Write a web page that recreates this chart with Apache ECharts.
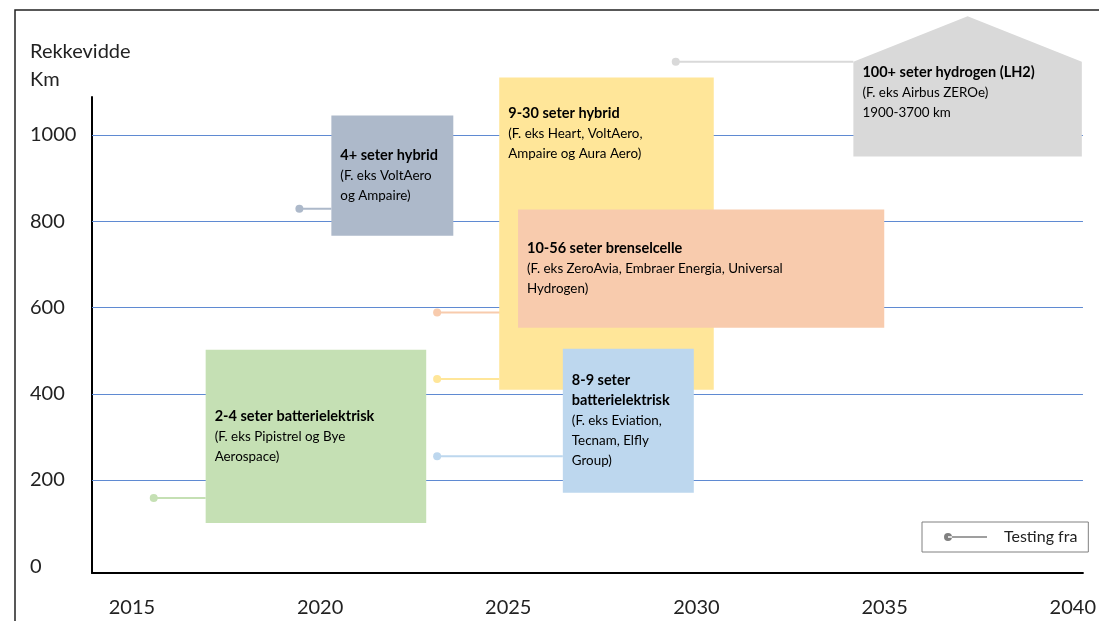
<!DOCTYPE html>
<html>
<head>
<meta charset="utf-8">
<script src="https://cdn.jsdelivr.net/npm/echarts@6/dist/echarts.min.js"></script>
<style>
  html, body { margin: 0; padding: 0; background: #fff; }
  #chart { width: 1099px; height: 621px; }
</style>
</head>
<body>
<div id="chart"></div>
<script>
// Flytyper: rekkevidde (km) mot år, med "testing fra"-punkt
const categories = ['9-30 seter hybrid', '10-56 seter brenselcelle', '8-9 seter\nbatterielektrisk',
  '2-4 seter batterielektrisk', '4+ seter hybrid', '100+ seter hydrogen (LH2)'];
const examples = ['(F. eks Heart, VoltAero,\nAmpaire og Aura Aero)',
  '(F. eks ZeroAvia, Embraer Energia, Universal\nHydrogen)',
  '(F. eks Eviation,\nTecnam, Elfly\nGroup)',
  '(F. eks Pipistrel og Bye\nAerospace)',
  '(F. eks VoltAero\nog Ampaire)',
  '(F. eks Airbus ZEROe)\n1900-3700 km'];
const startYear = [2024.76, 2025.26, 2026.45, 2016.96, 2020.30, 2034.17];
const endYear = [2030.46, 2034.99, 2029.93, 2022.82, 2023.54, 2040.24];
const rangeMin = [409, 553, 170, 100, 766, 950];
const rangeMax = [1133, 827, 504, 502, 1045, 1170];
const roofRange = [null, null, null, null, null, 1275];
const testYear = [2023.11, 2023.11, 2023.11, 2015.58, 2019.45, 2029.45];
const testRange = [434, 588, 255, 158, 829, 1170];
const yearTicks = [2015, 2020, 2025, 2030, 2035, 2040];
const rangeTicks = [0, 200, 400, 600, 800, 1000];

// stil
const boxColors = ['#FFE699', '#F8CBAD', '#BDD7EE', '#C5E0B4', '#ADB9CA', '#D9D9D9'];
const textTop = [26, null, null, null, null, 1]; // null = midtstilt
const FONT = 'Lato, "Open Sans", sans-serif';

const rich = {
  b: { fontFamily: FONT, fontSize: 14.5, fontWeight: 'bold', lineHeight: 20, color: '#111' },
  n: { fontFamily: FONT, fontSize: 13.4, lineHeight: 20, color: '#262626' }
};

function boxText(i) {
  const t = categories[i].split('\n').map(s => '{b|' + s + '}');
  const e = examples[i].split('\n').map(s => '{n|' + s + '}');
  return t.concat(e).join('\n');
}

function renderBox(params, api) {
  const i = params.dataIndex;
  const tl = api.coord([api.value(0), api.value(3)]);
  const br = api.coord([api.value(1), api.value(2)]);
  let box;
  if (roofRange[i] != null) {
    const roofY = api.coord([api.value(0), roofRange[i]])[1];
    box = {
      type: 'polygon',
      shape: { points: [[tl[0], tl[1]], [(tl[0] + br[0]) / 2, roofY], [br[0], tl[1]], [br[0], br[1]], [tl[0], br[1]]] },
      style: { fill: boxColors[i] }
    };
  } else {
    box = {
      type: 'rect',
      shape: { x: tl[0], y: tl[1], width: br[0] - tl[0], height: br[1] - tl[1] },
      style: { fill: boxColors[i] }
    };
  }
  const mid = textTop[i] == null;
  return {
    type: 'group',
    children: [box, {
      type: 'text',
      style: {
        text: boxText(i),
        x: tl[0] + 9,
        y: mid ? (tl[1] + br[1]) / 2 : tl[1] + textTop[i],
        verticalAlign: mid ? 'middle' : 'top',
        align: 'left',
        rich: rich
      }
    }]
  };
}

function renderTest(params, api) {
  const i = params.dataIndex;
  const p = api.coord([api.value(0), api.value(1)]);
  const e = api.coord([api.value(2), api.value(1)]);
  return {
    type: 'group',
    children: [
      { type: 'line', shape: { x1: p[0], y1: p[1], x2: e[0], y2: e[1] }, style: { stroke: boxColors[i], lineWidth: 2 } },
      { type: 'circle', shape: { cx: p[0], cy: p[1], r: 4 }, style: { fill: boxColors[i] } }
    ]
  };
}

function renderGrid(params, api) {
  const y = Math.round(api.coord([2020, api.value(0)])[1]) + 0.5;
  const cs = params.coordSys;
  return { type: 'line', shape: { x1: cs.x, y1: y, x2: cs.x + cs.width, y2: y }, style: { stroke: '#5f8ad2', lineWidth: 1 } };
}

const chart = echarts.init(document.getElementById('chart'));
chart.setOption({
  animation: false,
  title: {
    text: 'Rekkevidde\nKm',
    left: 30,
    top: 38,
    padding: 0,
    textStyle: { fontFamily: FONT, fontSize: 20, fontWeight: 'normal', color: '#222', lineHeight: 28 }
  },
  graphic: [{
    type: 'rect',
    shape: { x: 15, y: 10, width: 1200, height: 700 },
    style: { fill: 'none', stroke: '#222', lineWidth: 1.5 },
    silent: true
  }],
  legend: {
    left: 922,
    top: 522,
    padding: [7, 11, 7, 22],
    borderColor: '#808080',
    borderWidth: 1,
    selectedMode: false,
    itemWidth: 43,
    itemHeight: 8,
    data: [{
      name: 'Testing fra',
      icon: 'path://M0,4a4,4 0 1,0 8,0a4,4 0 1,0 -8,0zM4,3.2h39v1.6h-39z',
      itemStyle: { color: '#808080' }
    }],
    textStyle: { fontFamily: FONT, fontSize: 16, color: '#222', padding: [0, 0, 0, 12] }
  },
  grid: { left: 92, right: 12, top: 97, bottom: 48 },
  xAxis: {
    type: 'value',
    min: 2013.94,
    max: 2040.27,
    axisLine: { onZero: false, lineStyle: { color: '#000', width: 2 } },
    axisTick: { show: false },
    splitLine: { show: false },
    axisLabel: { customValues: yearTicks, formatter: v => String(v), margin: 25, fontFamily: FONT, fontSize: 20, color: '#222' }
  },
  yAxis: {
    type: 'value',
    min: -16,
    max: 1088,
    axisLine: { show: true, onZero: false, lineStyle: { color: '#000', width: 2 } },
    axisTick: { show: false },
    splitLine: { show: false },
    axisLabel: { customValues: rangeTicks, formatter: v => String(v), align: 'left', margin: 62, fontFamily: FONT, fontSize: 20, color: '#222' }
  },
  series: [
    {
      type: 'custom',
      name: 'grid',
      silent: true,
      z: 1,
      renderItem: renderGrid,
      encode: { y: 0 },
      data: rangeTicks.filter(v => v > 0).map(v => [v])
    },
    {
      type: 'custom',
      name: 'Testing fra',
      silent: true,
      z: 2,
      itemStyle: { color: '#808080' },
      renderItem: renderTest,
      encode: { x: [0, 2], y: 1 },
      data: testYear.map((y, i) => [y, testRange[i], startYear[i]])
    },
    {
      type: 'custom',
      name: 'typer',
      silent: true,
      z: 3,
      clip: false,
      renderItem: renderBox,
      encode: { x: [0, 1], y: [2, 3] },
      data: startYear.map((s, i) => [s, endYear[i], rangeMin[i], rangeMax[i]])
    }
  ]
});
</script>
</body>
</html>
